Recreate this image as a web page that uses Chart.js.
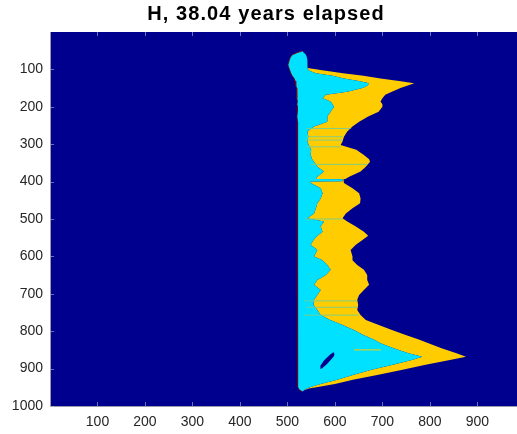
<!DOCTYPE html>
<html>
<head>
<meta charset="utf-8">
<script src="https://cdn.jsdelivr.net/npm/chart.js@4.4.1/dist/chart.umd.min.js"></script>
<style>
html,body{margin:0;padding:0;background:#fff;width:517px;height:434px;overflow:hidden}
canvas{display:block}
</style>
</head>
<body>
<canvas id="c" width="532" height="434"></canvas>
<script>
const titleText = 'H, 38.04 years elapsed';
const xTicks = [100, 200, 300, 400, 500, 600, 700, 800, 900];
const yTicks = [100, 200, 300, 400, 500, 600, 700, 800, 900, 1000];

// rows (y) of the image and, for each row, where each colour band ends (x)
const rowY = [51,55,61,68,75,88,96,103,110,117,
  124,131,137,144,150,160,168,177,186,193,
  200,213,226,240,253,266,280,293,302,315,
  329,340,347,360,373,387,393,394,399,400,
  404,418,431,445,458,471,485,498,507,520,
  534,545,556,569,583,600,610,623,636,650,
  663,676,690,703,716,730,743,757,770,783,
  797,810,823,832,846,859,868,877,890,904,
  917,930,941,948,953,958,962];
const leftX = [531,521,510,506,504,501,503,505,507,510,
  514,516,517,518,519,519,520,520,521,520,
  521,521,520,521,521,522,521,521,522,521,
  521,522,521,521,522,521,521,521,521,521,
  522,521,521,522,521,521,522,521,521,522,
  522,521,522,522,521,522,522,522,521,522,
  522,521,522,522,521,522,522,521,521,522,
  521,521,521,521,521,521,521,521,522,521,
  521,521,521,522,523,526,532];
const cyanX = [531,534,539,541,542,542,542,545,560,595,
  619,650,672,668,658,626,581,574,591,595,
  598,591,584,584,556,542,544,542,545,550,
  549,552,556,563,577,563,560,616,616,549,
  549,570,574,570,563,560,556,542,577,570,
  574,563,555,549,563,556,574,584,591,581,
  563,556,570,563,556,555,563,570,590,615,
  640,660,683,696,725,755,784,762,722,675,
  638,605,570,552,540,535,532];
const yellowX = [531,534,539,541,542,542,543,577,617,660,
  696,735,767,752,738,720,706,700,696,700,
  700,692,670,651,637,626,619,616,612,645,
  661,672,674,665,654,630,622,618,619,619,
  619,637,651,654,653,637,623,616,626,644,
  661,670,658,644,633,637,637,647,661,668,
  668,672,661,651,647,649,647,654,665,691,
  720,749,778,797,826,856,876,842,791,740,
  689,638,600,570,545,535,532];

// thin streaks across the yellow band
const streakY  = [258, 280, 289, 307, 354, 500, 719, 736, 757];
const streakX0 = [540, 540, 538, 540, 549, 538, 535, 540, 535];
const streakX1 = [633, 616, 616, 612, 668, 616, 647, 647, 650];
const warmStreakY  = [850];
const warmStreakX0 = [640];
const warmStreakX1 = [697];

// small dark hole inside the lower cyan region
const holeY = [855, 857, 862, 868, 874, 880, 886, 892, 899, 901];
const holeL = [598, 596, 590, 585, 580, 576, 573, 570, 569, 570];
const holeR = [598, 598, 599, 597, 593, 589, 585, 580, 573, 570];

const NAVY = '#00008F', CYAN = '#00E1FF', YELLOW = '#FFCC00';
const FONT = '"Liberation Sans", Arial, Helvetica, sans-serif';

function pts(ys, xs) { return ys.map((y, i) => ({x: xs[i], y: y})); }
function segs(ys, x0, x1) {
  const out = [];
  ys.forEach((y, i) => { out.push({x: x0[i], y: y}, {x: x1[i], y: y}, {x: null, y: y}); });
  return out;
}
const noLine = {pointRadius: 0, borderWidth: 0, borderColor: 'rgba(0,0,0,0)', tension: 0};

// index:        0          1        2        3        4       5       6
const datasets = [
  Object.assign({}, noLine, {label: 'streaks', data: segs(streakY, streakX0, streakX1), borderWidth: 1, borderColor: 'rgba(120,208,140,0.95)', fill: false}),
  Object.assign({}, noLine, {label: 'warm', data: segs(warmStreakY, warmStreakX0, warmStreakX1), borderWidth: 1, borderColor: YELLOW, fill: false}),
  Object.assign({}, noLine, {label: 'holeR', data: pts(holeY, holeR), fill: 3, backgroundColor: NAVY}),
  Object.assign({}, noLine, {label: 'holeL', data: pts(holeY, holeL), fill: false}),
  Object.assign({}, noLine, {label: 'left', data: pts(rowY, leftX), fill: false, borderWidth: 1, borderColor: 'rgba(120,0,10,0.85)'}),
  Object.assign({}, noLine, {label: 'cyan', data: pts(rowY, cyanX), fill: 4, backgroundColor: CYAN}),
  Object.assign({}, noLine, {label: 'yellow', data: pts(rowY, yellowX), fill: 5, backgroundColor: YELLOW})
];

const framePlugin = {
  id: 'frame',
  beforeDraw(chart) { chart.ctx.letterSpacing = '1.1px'; },
  beforeDatasetsDraw(chart) {
    const {ctx, chartArea: a} = chart;
    ctx.letterSpacing = '0px';
    ctx.save();
    ctx.fillStyle = NAVY;
    ctx.fillRect(a.left, a.top, a.right - a.left, a.bottom - a.top);
    ctx.restore();
  },
  afterDraw(chart) {
    const {ctx, chartArea: a, scales} = chart;
    ctx.save();
    ctx.strokeStyle = 'rgba(185,185,210,0.6)';
    ctx.lineWidth = 1;
    ctx.beginPath();
    xTicks.forEach(v => {
      const px = Math.round(scales.x.getPixelForValue(v)) + 0.5;
      ctx.moveTo(px, a.bottom); ctx.lineTo(px, a.bottom - 4);
      ctx.moveTo(px, a.top); ctx.lineTo(px, a.top + 4);
    });
    yTicks.forEach(v => {
      const py = Math.round(scales.y.getPixelForValue(v)) + 0.5;
      ctx.moveTo(a.left, py); ctx.lineTo(a.left + 4, py);
    });
    ctx.stroke();
    ctx.restore();
  }
};

new Chart(document.getElementById('c'), {
  type: 'line',
  data: {datasets: datasets},
  options: {
    responsive: false,
    animation: false,
    indexAxis: 'y',
    layout: {padding: 0},
    events: [],
    plugins: {
      legend: {display: false},
      tooltip: {enabled: false},
      title: {
        display: true, text: titleText, color: '#000',
        font: {family: FONT, size: 20, weight: 'bold', lineHeight: 1.2},
        padding: {top: 2, bottom: 6}
      }
    },
    scales: {
      x: {
        type: 'linear', position: 'bottom', min: 0, max: 1015,
        grid: {display: false, drawTicks: false},
        border: {display: true, color: '#9a9aae', width: 1, z: 1},
        ticks: {color: '#262626', font: {family: FONT, size: 14}, padding: 8, maxRotation: 0, autoSkip: false, z: 1, callback: v => String(v)},
        afterBuildTicks: s => { s.ticks = xTicks.map(v => ({value: v})); },
        afterFit: s => { s.height = 28; }
      },
      y: {
        type: 'linear', position: 'left', reverse: true, min: 0, max: 1000,
        grid: {display: false, drawTicks: false},
        border: {display: true, color: '#9a9aae', width: 1, z: 1},
        ticks: {color: '#262626', font: {family: FONT, size: 14}, padding: 7, autoSkip: false, z: 1, callback: v => String(v)},
        afterBuildTicks: s => { s.ticks = yTicks.map(v => ({value: v})); },
        afterFit: s => { s.width = 50; }
      }
    }
  },
  plugins: [framePlugin]
});
</script>
</body>
</html>
